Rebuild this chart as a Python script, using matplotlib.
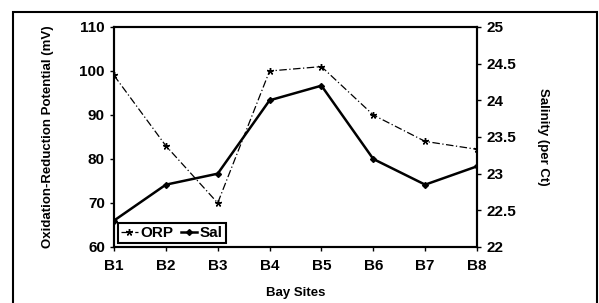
import matplotlib
matplotlib.use("Agg")
import matplotlib.pyplot as plt
from matplotlib.patches import Rectangle

plt.rcParams['font.family'] = ['Liberation Sans', 'DejaVu Sans']
plt.rcParams['font.weight'] = 'bold'

sites = ['B1', 'B2', 'B3', 'B4', 'B5', 'B6', 'B7', 'B8']
orp = [99, 83, 70, 100, 101, 90, 84, 82.2]
sal = [22.36, 22.85, 23.0, 24.0, 24.2, 23.2, 22.85, 23.1]

fig = plt.figure(figsize=(5.99, 3.03), dpi=100)
ax = fig.add_axes([114 / 599, 1 - 247 / 303, (477 - 114) / 599, (247 - 27) / 303])
ax2 = ax.twinx()

x = range(len(sites))
l1, = ax.plot(x, orp, color='black', lw=0.9, ls=(0, (6, 2, 1, 2)), marker=(5, 2, 0), ms=5, label='ORP')
l2, = ax2.plot(x, sal, color='black', lw=1.8, marker='D', ms=3, label='Sal')

ax.set_xlim(0, len(sites) - 1)
ax.set_ylim(60, 110)
ax.set_yticks([60, 70, 80, 90, 100, 110])
ax2.set_ylim(22, 25)
ax2.set_yticks([22, 22.5, 23, 23.5, 24, 24.5, 25])
ax2.set_yticklabels(['22', '22.5', '23', '23.5', '24', '24.5', '25'])
ax.set_xticks(list(x))
ax.set_xticklabels(sites)

for a in (ax, ax2):
    for s in a.spines.values():
        s.set_linewidth(1.5)
    a.tick_params(labelsize=11, width=1, length=3)
ax.tick_params(axis='x', pad=6)

ax.set_xlabel('Bay Sites', fontsize=9.5, fontweight='bold', labelpad=10)
ax.set_ylabel('Oxidation-Reduction Potential (mV)', fontsize=9.5, fontweight='bold', labelpad=18)
ax2.set_ylabel('Salinity (per Ct)', fontsize=9.5, fontweight='bold', rotation=-90, labelpad=24)

leg = ax.legend(handles=[l1, l2], loc='lower left', ncol=2, fontsize=11,
                handlelength=1.1, handletextpad=0.15, columnspacing=0.5,
                borderpad=0.2, borderaxespad=0.25, fancybox=False, framealpha=1)
leg.get_frame().set_edgecolor('black')
leg.get_frame().set_linewidth(1.5)

fig.patches.append(Rectangle((13 / 599, -0.05), (597 - 13) / 599, 1.05 - 12 / 303,
                             transform=fig.transFigure, fill=False, lw=1.5, ec='black'))

fig.savefig('out.png', dpi=100)
